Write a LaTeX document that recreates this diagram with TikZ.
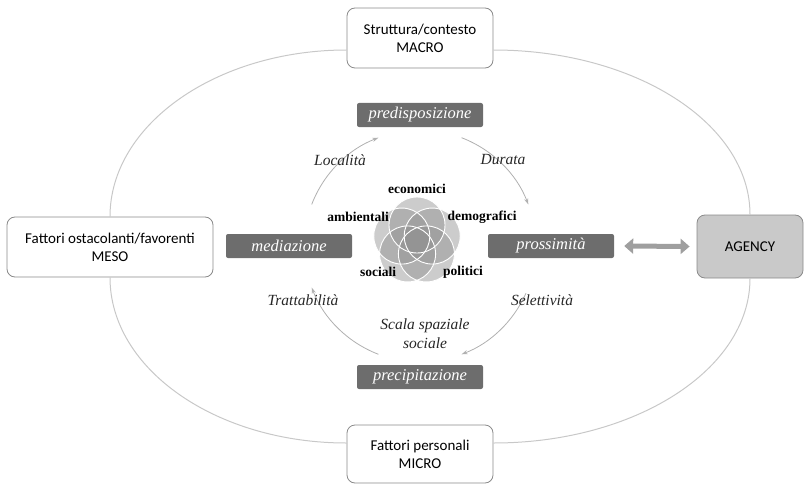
\documentclass[tikz,border=0pt]{standalone}
\usepackage{fontspec}
\setmainfont{Liberation Serif}
\newfontfamily\boxfont{Carlito}
\usetikzlibrary{arrows.meta, positioning, calc}
\usepackage{xcolor}
\definecolor{StageGray}{HTML}{6D6D6D}
\definecolor{RingGray}{HTML}{C8C8C8}
\definecolor{FrameGray}{HTML}{8A8A8A}
\definecolor{AgencyGray}{HTML}{C9C9C9}
\definecolor{PetalGray}{HTML}{8E8E8E}
\definecolor{CycleGray}{HTML}{B0B0B0}
\tikzset{
  levelbox/.style={
    rectangle, rounded corners=8pt, draw=FrameGray, line width=0.8pt,
    minimum width=146pt, minimum height=60pt,
    align=center, fill=white, inner sep=2pt,
    font=\boxfont\fontsize{15}{18}\selectfont
  },
  stagebox/.style={
    rectangle, rounded corners=2pt, fill=StageGray, text=white,
    minimum width=126pt, minimum height=24pt, inner sep=0pt,
    font=\itshape\fontsize{16.5}{18}\selectfont
  },
  ring/.style={
    draw=RingGray, line width=1pt
  },
  cyclearrow/.style={
    -{Stealth[length=6pt, width=4pt]},
    draw=CycleGray, line width=0.8pt
  },
  edgelabel/.style={
    text=black!85, align=center,
    font=\itshape\fontsize{15.5}{19}\selectfont
  },
  factor/.style={
    font=\bfseries\fontsize{13.5}{15}\selectfont
  }
}

\begin{document}
\begin{tikzpicture}[x=1pt, y=1pt]

\useasboundingbox (0,0) rectangle (805,-484);

% ── Level boxes round the ring ────────────────────────────────────────────────

\node[levelbox] (macro) at (420,-38) {Struttura/contesto\\MACRO};
\node[levelbox, minimum width=206pt] (meso) at (110,-247) {Fattori ostacolanti/favorenti\\MESO};
\node[levelbox, minimum height=58pt] (micro) at (420,-454) {Fattori personali\\MICRO};
\node[levelbox, fill=AgencyGray, minimum width=106pt, minimum height=63pt] (agency) at (750,-246.5) {AGENCY};

% ── Stage boxes of the cycle ──────────────────────────────────────────────────

\coordinate (hub) at (420,-246);

\node[stagebox] (predisp) at (420,-115) {predisposizione};
\node[stagebox] (mediaz) at (289,-246) {mediazione};
\node[stagebox] (prossim) at (551,-246) {prossimità};
\node[stagebox] (precip) at (420,-377) {precipitazione};

% ── Outer ring — quarter curves between level boxes ──────────────────────────

\draw[ring] ([yshift=-12pt]macro.west) .. controls +(-130,0) and +(0,92) .. (meso.north);
\draw[ring] (meso.south) .. controls +(0,-92) and +(-130,0) .. ([yshift=11pt]micro.west);
\draw[ring] ([yshift=-12pt]macro.east) .. controls +(142,0) and +(0,91) .. (agency.north);
\draw[ring] (agency.south) .. controls +(0,-91) and +(142,0) .. ([yshift=11pt]micro.east);

% ── Cycle arrows on a circle round the hub ───────────────────────────────────

\draw[cyclearrow] ($(hub)+(159:116)$) arc[start angle=159, end angle=111, radius=116];
\draw[cyclearrow] ($(hub)+(69:116)$) arc[start angle=69, end angle=21, radius=116];
\draw[cyclearrow] ($(hub)+(-24:116)$) arc[start angle=-24, end angle=-69, radius=116];
\draw[cyclearrow] ($(hub)+(-111:116)$) arc[start angle=-111, end angle=-159, radius=116];

\node[edgelabel] (loc) at (340,-160) {Località};
\node[edgelabel] (dur) at (503,-160) {Durata};
\node[edgelabel] (sel) at (542,-300) {Selettività};
\node[edgelabel] (tra) at (303,-300) {Trattabilità};
\node[edgelabel] (scala) at (425,-334) {Scala spaziale\\sociale};

% ── Five overlapping circles ──────────────────────────────────────────────────

\coordinate (flower) at (417,-241);
\foreach \ang in {90,18,-54,-126,162}
  \fill[PetalGray, fill opacity=0.45] ($(flower)+(\ang:16)$) circle[radius=28];
\foreach \ang in {90,18,-54,-126,162}
  \draw[white, line width=0.9pt] ($(flower)+(\ang:16)$) circle[radius=28];

\node[factor] (econ) at (417,-189) {economici};
\node[factor] (demo) at (482,-217) {demografici};
\node[factor] (poli) at (463,-272) {politici};
\node[factor] (soci) at (378,-272) {sociali};
\node[factor] (ambi) at (358,-217) {ambientali};

% ── Link to agency ────────────────────────────────────────────────────────────

\draw[{Triangle[length=9pt, width=15pt]}-{Triangle[length=9pt, width=15pt]}, draw=gray!75, fill=gray!75, line width=5pt]
  ([xshift=10pt]prossim.east) -- ([xshift=-7pt]agency.west);

\end{tikzpicture}
\end{document}
